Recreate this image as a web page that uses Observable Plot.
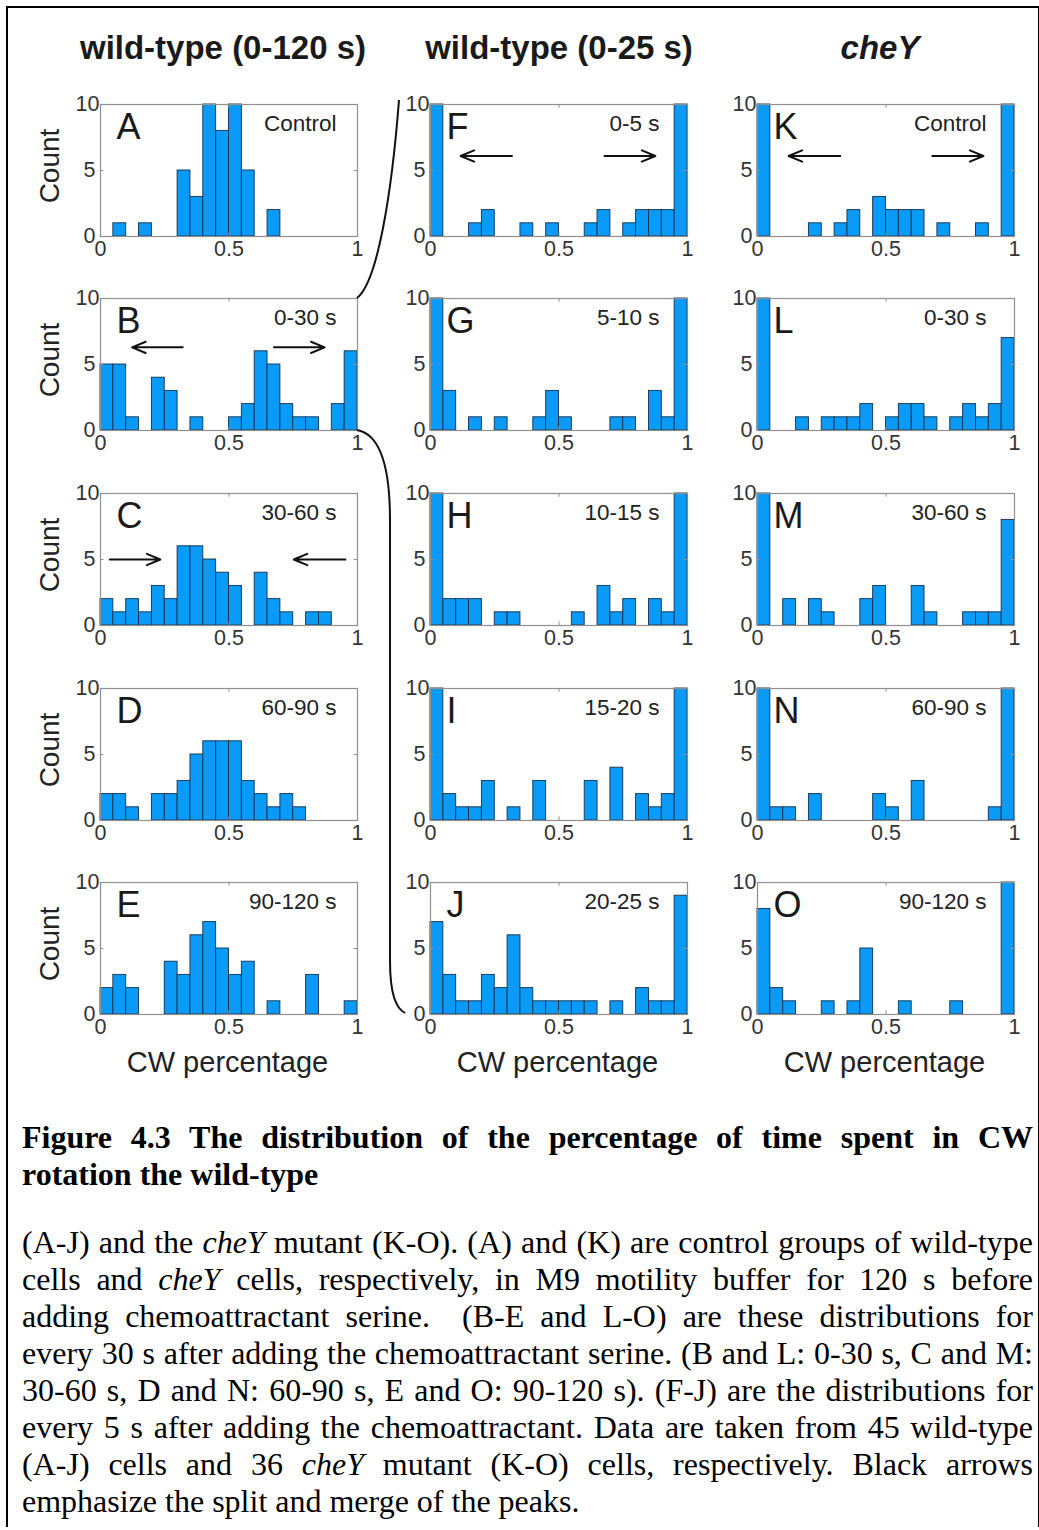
<!DOCTYPE html>
<html><head><meta charset="utf-8">
<script src="https://cdn.jsdelivr.net/npm/d3@7"></script>
<script src="https://cdn.jsdelivr.net/npm/@observablehq/plot@0.6"></script>
<style>
html,body{margin:0;padding:0;background:#fff;}
#page{position:relative;width:1039px;height:1530px;overflow:hidden;background:#fff;font-family:"Liberation Sans",Arial,sans-serif;}
#border{position:absolute;left:6px;top:6px;width:1034px;height:1521px;border:2px solid #000;border-bottom:none;box-sizing:border-box;}
.panel{position:absolute;}
.colTitle{position:absolute;top:29px;font-weight:bold;font-size:33px;color:#1a1a1a;transform:translateX(-50%);white-space:nowrap;}
.ylab{position:absolute;font-size:28px;color:#222;transform:translate(-50%,-50%) rotate(-90deg);white-space:nowrap;}
.xlab{position:absolute;top:1046px;font-size:29px;color:#222;transform:translateX(-50%);white-space:nowrap;}
.caption{position:absolute;left:22px;width:1011px;font-family:"Liberation Serif","Times New Roman",serif;font-size:32px;line-height:37px;color:#000;}
.caption div{text-align:justify;text-align-last:justify;}
.caption div.last{text-align:left;text-align-last:left;}
#overlay{position:absolute;left:0;top:0;pointer-events:none;}
</style></head>
<body><div id="page"><div id="border"></div></div>
<script>
// ---- data (counts per 0.05-wide bin of CW percentage, 20 bins from 0 to 1) ----
const countsA = [0,1,0,1,0,0,5,3,10,8,10,5,0,2,0,0,0,0,0,0];
const countsB = [5,5,1,0,4,3,0,1,0,0,1,2,6,5,2,1,1,0,2,6];
const countsC = [2,1,2,1,3,2,6,6,5,4,3,0,4,2,1,0,1,1,0,0];
const countsD = [2,2,1,0,2,2,3,5,6,6,6,3,2,1,2,1,0,0,0,0];
const countsE = [2,3,2,0,0,4,3,6,7,5,3,4,0,1,0,0,3,0,0,1];
const countsF = [10,0,0,1,2,0,0,1,0,1,0,0,1,2,0,1,2,2,2,10];
const countsG = [10,3,0,1,0,1,0,0,1,3,1,0,0,0,1,1,0,3,1,10];
const countsH = [10,2,2,2,0,1,1,0,0,0,0,1,0,3,1,2,0,2,1,10];
const countsI = [10,2,1,1,3,0,1,0,3,0,0,0,3,0,4,0,2,1,2,10];
const countsJ = [7,3,1,1,3,2,6,2,1,1,1,1,1,0,1,0,2,1,1,9];
const countsK = [10,0,0,0,1,0,1,2,0,3,2,2,2,0,1,0,0,1,0,10];
const countsL = [10,0,0,1,0,1,1,1,2,0,1,2,2,1,0,1,2,1,2,7];
const countsM = [10,0,2,0,2,1,0,0,2,3,0,0,3,1,0,0,1,1,1,8];
const countsN = [10,1,1,0,2,0,0,0,0,2,1,0,3,0,0,0,0,0,1,10];
const countsO = [8,2,1,0,0,1,0,1,5,0,0,1,0,0,0,1,0,0,0,10];

const binWidth = 0.05;
const panelLetters = ["A","B","C","D","E","F","G","H","I","J","K","L","M","N","O"];
const panelConditions = ["Control","0-30 s","30-60 s","60-90 s","90-120 s",
  "0-5 s","5-10 s","10-15 s","15-20 s","20-25 s",
  "Control","0-30 s","30-60 s","60-90 s","90-120 s"];
const panelCounts = [countsA,countsB,countsC,countsD,countsE,countsF,countsG,countsH,countsI,countsJ,countsK,countsL,countsM,countsN,countsO];
const columnTitles = ["wild-type (0-120 s)","wild-type (0-25 s)","cheY"];
const xTicks = [0,0.5,1];
const yTicksLow = [0,5];
const yTicksTop = [10];
const xLabel = "CW percentage";
const yLabel = "Count";
// arrows (data coordinates of each panel)
const arrowPanels = ["B","B","C","C","F","F","K","K"];
const arrowX1 = [0.32,0.675,0.036,0.953,0.317,0.677,0.322,0.68];
const arrowX2 = [0.123,0.872,0.233,0.752,0.117,0.875,0.121,0.879];
const arrowY  = [6.3,6.3,5.0,5.0,6.1,6.1,6.1,6.1];

const captionTitle = ["Figure 4.3 The distribution of the percentage of time spent in CW","rotation the wild-type"];
const captionBody = [
 "(A-J) and the <i>cheY</i> mutant (K-O). (A) and (K) are control groups of wild-type",
 "cells and <i>cheY</i> cells, respectively, in M9 motility buffer for 120 s before",
 "adding chemoattractant serine.&nbsp; (B-E and L-O) are these distributions for",
 "every 30 s after adding the chemoattractant serine. (B and L: 0-30 s, C and M:",
 "30-60 s, D and N: 60-90 s, E and O: 90-120 s). (F-J) are the distributions for",
 "every 5 s after adding the chemoattractant. Data are taken from 45 wild-type",
 "(A-J) cells and 36 <i>cheY</i> mutant (K-O) cells, respectively. Black arrows",
 "emphasize the split and merge of the peaks."
];

// ---- layout ----
const colX = [100, 430, 757];
const rowY = [104, 298, 493, 688, 882];
const condInset = [-21, -28, -28];
const fw = 257, fh = 132;
const ml = 44, mr = 14, mt = 14, mb = 32;
const blue = "#0a9af7";
const boxGray = "#8f8f8f";

const page = document.getElementById("page");

panelCounts.forEach((counts, p) => {
  const col = Math.floor(p / 5), row = p % 5;
  const letter = panelLetters[p];
  const bins = counts.map((c, i) => ({x1: i * binWidth, x2: (i + 1) * binWidth, y: c})).filter(d => d.y > 0);
  const arrows = arrowPanels.map((a, i) => ({panel: a, x1: arrowX1[i], x2: arrowX2[i], y: arrowY[i]})).filter(d => d.panel === letter);
  const chart = Plot.plot({
    width: fw + ml + mr, height: fh + mt + mb,
    marginLeft: ml, marginRight: mr, marginTop: mt, marginBottom: mb,
    x: {domain: [0, 1], label: null},
    y: {domain: [0, 10], label: null},
    style: {fontFamily: "'Liberation Sans', Arial, sans-serif", background: "transparent", color: "#333", overflow: "visible"},
    marks: [
      Plot.rectY(bins, {x1: "x1", x2: "x2", y: "y", fill: blue, stroke: "#15304a", strokeWidth: 0.9}),
      Plot.frame({stroke: boxGray, strokeWidth: 1.2}),
      Plot.ruleX([0.5], {y1: 0, y2: 0.28, stroke: boxGray}),
      Plot.ruleX([0.5], {y1: 9.72, y2: 10, stroke: boxGray}),
      Plot.ruleY([5], {x1: 0, x2: 0.013, stroke: boxGray}),
      Plot.ruleY([5], {x1: 0.987, x2: 1, stroke: boxGray}),
      Plot.axisX({ticks: xTicks, tickSize: 0, tickPadding: 4, fontSize: 21.5, tickFormat: d => String(d), label: null, fill: "#333"}),
      Plot.axisY({ticks: yTicksLow, tickSize: 0, tickPadding: 5, fontSize: 21.5, label: null, fill: "#333"}),
      Plot.axisY({ticks: yTicksTop, tickSize: 0, tickPadding: 1, fontSize: 21.5, label: null, fill: "#333"}),
      Plot.text([letter], {frameAnchor: "top-left", dx: 16, dy: 9, lineAnchor: "top", textAnchor: "start", fontSize: 36, fill: "#1a1a1a"}),
      Plot.text([panelConditions[p]], {frameAnchor: "top-right", dx: condInset[col], dy: 11, lineAnchor: "top", textAnchor: "end", fontSize: 22.5, fill: "#222"}),
      Plot.arrow(arrows, {x1: "x1", y1: "y", x2: "x2", y2: "y", stroke: "#111", strokeWidth: 2, headLength: 11, headAngle: 45})
    ]
  });
  const div = document.createElement("div");
  div.className = "panel";
  div.style.left = (colX[col] - ml) + "px";
  div.style.top = (rowY[row] - mt) + "px";
  div.appendChild(chart);
  page.appendChild(div);
});

// column titles
const titleCenters = [223, 559, 880];
columnTitles.forEach((t, i) => {
  const d = document.createElement("div");
  d.className = "colTitle";
  d.style.left = titleCenters[i] + "px";
  if (i === 2) d.style.fontStyle = "italic";
  d.textContent = t;
  page.appendChild(d);
});
// y labels
rowY.forEach(y => {
  const d = document.createElement("div");
  d.className = "ylab";
  d.style.left = "50px";
  d.style.top = (y + fh / 2 - 4) + "px";
  d.textContent = yLabel;
  page.appendChild(d);
});
// x labels
colX.forEach(x => {
  const d = document.createElement("div");
  d.className = "xlab";
  d.style.left = (x + fw / 2 - 1) + "px";
  d.textContent = xLabel;
  page.appendChild(d);
});

// connector curves (B -> F..J)
const ns = "http://www.w3.org/2000/svg";
const ov = document.createElementNS(ns, "svg");
ov.setAttribute("id", "overlay"); ov.setAttribute("width", 1039); ov.setAttribute("height", 1530);
[
 "M357,298 C378,282 392,190 399,100",
 "M357,430 C380,434 390,465 390,520 L390,960 C390,995 396,1008 405,1013"
].forEach(dp => {
  const path = document.createElementNS(ns, "path");
  path.setAttribute("d", dp); path.setAttribute("fill", "none");
  path.setAttribute("stroke", "#111"); path.setAttribute("stroke-width", "2");
  ov.appendChild(path);
});
page.appendChild(ov);

// caption
const cap1 = document.createElement("div");
cap1.className = "caption"; cap1.style.top = "1119px"; cap1.style.fontWeight = "bold";
cap1.innerHTML = captionTitle.map((l, i) => `<div class="${i === captionTitle.length - 1 ? "last" : ""}">${l}</div>`).join("");
page.appendChild(cap1);
const cap2 = document.createElement("div");
cap2.className = "caption"; cap2.style.top = "1224px";
cap2.innerHTML = captionBody.map((l, i) => `<div class="${i === captionBody.length - 1 ? "last" : ""}">${l}</div>`).join("");
page.appendChild(cap2);
</script>
</body></html>
